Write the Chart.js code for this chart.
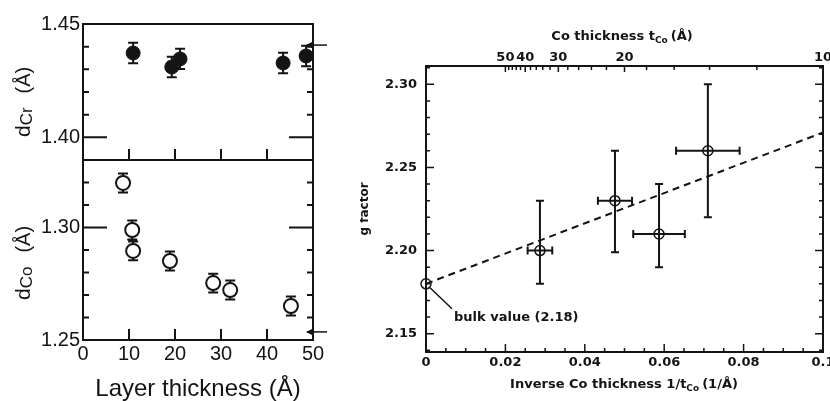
<!DOCTYPE html>
<html>
<head>
<meta charset="utf-8">
<script src="https://cdn.jsdelivr.net/npm/chart.js@4.4.1/dist/chart.umd.min.js"></script>
<style>
  html, body { margin: 0; padding: 0; background: #fff; }
  #wrap { position: relative; width: 830px; height: 401px; overflow: hidden; }
  .box { position: absolute; }
</style>
</head>
<body>
<div id="wrap">
  <div class="box" style="left:0;top:0;width:330px;height:161px"><canvas id="crTop"></canvas></div>
  <div class="box" style="left:0;top:159px;width:330px;height:242px"><canvas id="coBottom"></canvas></div>
  <div class="box" style="left:360px;top:0;width:470px;height:401px"><canvas id="gFactor"></canvas></div>
</div>
<script>
// ---- left figure: layer spacing vs layer thickness ----
const crThickness = [10.9, 19.3, 21.1, 43.5, 48.5];
const crSpacing = [1.4372, 1.4310, 1.4346, 1.4328, 1.4359];
const crError = [0.0045, 0.0045, 0.0045, 0.0045, 0.0045];
const coThickness = [8.7, 10.7, 10.9, 18.9, 28.3, 32.0, 45.2];
const coSpacing = [1.3198, 1.2989, 1.2896, 1.2851, 1.2753, 1.2722, 1.2651];
const coError = [0.0042, 0.0042, 0.0042, 0.0042, 0.0042, 0.0042, 0.0042];
const crBulkSpacing = 1.4407;
const coBulkSpacing = 1.2536;
const layerTicks = [0, 10, 20, 30, 40, 50];
const crTickLabels = [1.40, 1.45];
const coTickLabels = [1.25, 1.30];

// ---- right figure: g factor vs inverse Co thickness ----
const invThickness = [0.0287, 0.0476, 0.0587, 0.0710];
const invThicknessErr = [0.0031, 0.0043, 0.0065, 0.0080];
const gFactor = [2.200, 2.230, 2.210, 2.260];
const gErrUp = [0.030, 0.030, 0.030, 0.040];
const gErrDown = [0.020, 0.031, 0.020, 0.040];
const bulkInv = [0];
const bulkG = [2.18];
const fitInv = [0, 0.1];
const fitG = [2.18, 2.271];
const invTicks = [0, 0.02, 0.04, 0.06, 0.08, 0.1];
const gTicks = [2.15, 2.20, 2.25, 2.30];
const coTopLabels = [50, 40, 30, 20, 10];
const coTopMinor = [12, 14, 16, 18, 22, 24, 26, 28, 32, 34, 36, 38, 42, 44, 46, 48];

const INK = "#141414";
const LEFT_FONT = "Liberation Sans";
const RIGHT_FONT = "DejaVu Sans";

Chart.defaults.animation = false;
Chart.defaults.events = [];
Chart.defaults.color = INK;
Chart.defaults.plugins.legend.display = false;
Chart.defaults.plugins.tooltip.enabled = false;

function fixedAxis(size, horizontal) {
  return (s) => {
    if (horizontal) s.height = size; else s.width = size;
    s.paddingLeft = s.paddingRight = s.paddingTop = s.paddingBottom = 0;
  };
}
function setTicks(values) {
  return (s) => { s.ticks = values.map((v) => ({ value: v })); };
}
const noGrid = { display: false, drawTicks: false };

// text pieces drawn one after another (for subscripts)
function runWidth(ctx, parts) {
  let w = 0;
  parts.forEach((p) => { ctx.font = p.font; w += ctx.measureText(p.text).width + (p.gap || 0); });
  return w;
}
function drawRun(ctx, parts, x, y) {
  let cx = x;
  parts.forEach((p) => {
    ctx.font = p.font;
    ctx.fillText(p.text, cx, y + (p.dy || 0));
    cx += ctx.measureText(p.text).width + (p.gap || 0);
  });
}

function line(ctx, x1, y1, x2, y2) {
  ctx.moveTo(x1, y1); ctx.lineTo(x2, y2);
}

function leftPanel(cfg) {
  return {
    id: "leftPanel",
    beforeDatasetsDraw(chart) {
      const { ctx, scales: { x, y } } = chart;
      ctx.save();
      ctx.strokeStyle = INK;
      ctx.lineWidth = 2;
      ctx.beginPath();
      cfg.xs.forEach((xv, i) => {
        const px = x.getPixelForValue(xv);
        const lo = y.getPixelForValue(cfg.ys[i] - cfg.err[i]);
        const hi = y.getPixelForValue(cfg.ys[i] + cfg.err[i]);
        line(ctx, px, lo, px, hi);
        line(ctx, px - 5, lo, px + 5, lo);
        line(ctx, px - 5, hi, px + 5, hi);
      });
      ctx.stroke();
      ctx.restore();
    },
    afterDraw(chart) {
      const { ctx, chartArea: a, scales: { x, y } } = chart;
      ctx.save();
      ctx.strokeStyle = INK;
      ctx.fillStyle = INK;
      ctx.lineWidth = 2;
      ctx.beginPath();
      ctx.rect(a.left, a.top, a.right - a.left, a.bottom - a.top);
      // inward y ticks every 0.01, long ones at the labelled value
      for (let k = Math.round(y.min * 100) + 1; k < Math.round(y.max * 100); k++) {
        const py = y.getPixelForValue(k / 100);
        const len = k === cfg.longTick ? 24 : 6;
        line(ctx, a.left, py, a.left + len, py);
        line(ctx, a.right, py, a.right - len, py);
      }
      // x ticks pointing up from the bottom edge
      [10, 20, 30, 40].forEach((v) => {
        const px = x.getPixelForValue(v);
        line(ctx, px, a.bottom, px, a.bottom - 11);
      });
      ctx.stroke();

      // bulk reference arrow on the right edge
      const ay = y.getPixelForValue(cfg.arrow);
      ctx.lineWidth = 1.5;
      ctx.beginPath();
      line(ctx, a.right - 6, ay, a.right + 14, ay);
      ctx.stroke();
      ctx.beginPath();
      ctx.moveTo(a.right - 7, ay);
      ctx.lineTo(a.right, ay - 3.5);
      ctx.lineTo(a.right, ay + 3.5);
      ctx.closePath();
      ctx.fill();

      // rotated y title
      ctx.translate(30, cfg.titleStart);
      ctx.rotate(-Math.PI / 2);
      ctx.textBaseline = "alphabetic";
      drawRun(ctx, [
        { text: "d", font: `21px "${LEFT_FONT}"` },
        { text: cfg.sub, font: `17px "${LEFT_FONT}"`, dy: 2, gap: 14 },
        { text: "(Å)", font: `20px "${LEFT_FONT}"` },
      ], 0, 0);
      ctx.restore();

      if (cfg.xTitle) {
        ctx.save();
        ctx.fillStyle = INK;
        ctx.font = `24px "${LEFT_FONT}"`;
        ctx.textAlign = "center";
        ctx.textBaseline = "alphabetic";
        ctx.fillText(cfg.xTitle, 198, chart.height - 5);
        ctx.restore();
      }
    },
  };
}

function leftY(min, max, labels) {
  return {
    min, max,
    afterBuildTicks: setTicks(labels),
    afterFit: fixedAxis(83),
    grid: noGrid,
    border: { display: false },
    ticks: { padding: 3, font: { family: LEFT_FONT, size: 20 }, callback: (v) => Number(v).toFixed(2) },
  };
}

new Chart(document.getElementById("crTop"), {
  type: "scatter",
  data: {
    datasets: [{
      data: crThickness.map((t, i) => ({ x: t, y: crSpacing[i] })),
      pointRadius: 7,
      pointBackgroundColor: INK,
      pointBorderColor: INK,
      pointBorderWidth: 1,
    }],
  },
  options: {
    responsive: true,
    maintainAspectRatio: false,
    layout: { autoPadding: false, padding: { top: 24, right: 17, bottom: 1, left: 0 } },
    scales: {
      x: { display: false, min: 0, max: 50 },
      y: leftY(1.39, 1.45, crTickLabels),
    },
  },
  plugins: [leftPanel({ xs: crThickness, ys: crSpacing, err: crError, longTick: 140, arrow: crBulkSpacing, sub: "Cr", titleStart: 137 })],
});

new Chart(document.getElementById("coBottom"), {
  type: "scatter",
  data: {
    datasets: [{
      data: coThickness.map((t, i) => ({ x: t, y: coSpacing[i] })),
      pointRadius: 7,
      pointBackgroundColor: "#fff",
      pointBorderColor: INK,
      pointBorderWidth: 2,
    }],
  },
  options: {
    responsive: true,
    maintainAspectRatio: false,
    layout: { autoPadding: false, padding: { top: 1, right: 17, bottom: 0, left: 0 } },
    scales: {
      x: {
        min: 0, max: 50,
        afterBuildTicks: setTicks(layerTicks),
        afterFit: fixedAxis(61, true),
        grid: noGrid,
        border: { display: false },
        ticks: { padding: 2, font: { family: LEFT_FONT, size: 20 }, maxRotation: 0, autoSkip: false },
      },
      y: leftY(1.25, 1.33, coTickLabels),
    },
  },
  plugins: [leftPanel({ xs: coThickness, ys: coSpacing, err: coError, longTick: 130, arrow: coBulkSpacing, sub: "Co", titleStart: 141, xTitle: "Layer thickness (Å)" })],
});

// ---- right figure ----
const gPanel = {
  id: "gPanel",
  beforeDatasetsDraw(chart) {
    const { ctx, scales: { x, y } } = chart;
    ctx.save();
    ctx.strokeStyle = INK;
    ctx.lineWidth = 2;
    ctx.beginPath();
    invThickness.forEach((xv, i) => {
      const px = x.getPixelForValue(xv);
      const py = y.getPixelForValue(gFactor[i]);
      const top = y.getPixelForValue(gFactor[i] + gErrUp[i]);
      const bot = y.getPixelForValue(gFactor[i] - gErrDown[i]);
      const l = x.getPixelForValue(xv - invThicknessErr[i]);
      const r = x.getPixelForValue(xv + invThicknessErr[i]);
      line(ctx, px, top, px, bot);
      line(ctx, px - 4, top, px + 4, top);
      line(ctx, px - 4, bot, px + 4, bot);
      line(ctx, l, py, r, py);
      line(ctx, l, py - 4, l, py + 4);
      line(ctx, r, py - 4, r, py + 4);
    });
    ctx.stroke();
    ctx.restore();
  },
  afterDraw(chart) {
    const { ctx, chartArea: a, scales: { x, y } } = chart;
    ctx.save();
    ctx.strokeStyle = INK;
    ctx.fillStyle = INK;
    ctx.lineWidth = 2;
    ctx.beginPath();
    ctx.rect(a.left, a.top, a.right - a.left, a.bottom - a.top);
    ctx.stroke();

    ctx.lineWidth = 1.5;
    ctx.beginPath();
    // left / right ticks, every 0.01, long every 0.05
    for (let k = 214; k <= 231; k++) {
      const py = y.getPixelForValue(k / 100);
      const len = k % 5 === 0 ? 8 : 4;
      line(ctx, a.left, py, a.left + len, py);
      line(ctx, a.right, py, a.right - len, py);
    }
    // bottom ticks, every 0.005, long every 0.02
    for (let k = 1; k < 20; k++) {
      const px = x.getPixelForValue(k * 0.005);
      const len = k % 4 === 0 ? 8 : 4;
      line(ctx, px, a.bottom, px, a.bottom - len);
    }
    // top ticks at Co thickness values
    coTopLabels.forEach((t) => {
      const px = x.getPixelForValue(1 / t);
      line(ctx, px, a.top, px, a.top + 6);
    });
    coTopMinor.forEach((t) => {
      const px = x.getPixelForValue(1 / t);
      line(ctx, px, a.top, px, a.top + 4);
    });
    ctx.stroke();

    // bulk value pointer
    const bx = x.getPixelForValue(bulkInv[0]);
    const by = y.getPixelForValue(bulkG[0]);
    ctx.lineWidth = 1.5;
    ctx.beginPath();
    line(ctx, bx + 4, by + 4, bx + 26, by + 25);
    ctx.stroke();
    ctx.font = `bold 13px "${RIGHT_FONT}"`;
    ctx.textBaseline = "middle";
    ctx.fillText("bulk value (2.18)", bx + 28, by + 34);

    // axis titles
    ctx.textBaseline = "alphabetic";
    const topTitle = [
      { text: "Co thickness t", font: `bold 13px "${RIGHT_FONT}"` },
      { text: "Co", font: `bold 9px "${RIGHT_FONT}"`, dy: 3, gap: 3 },
      { text: "(Å)", font: `bold 13px "${RIGHT_FONT}"` },
    ];
    drawRun(ctx, topTitle, 262 - runWidth(ctx, topTitle) / 2, 40);
    const botTitle = [
      { text: "Inverse Co thickness 1/t", font: `bold 13px "${RIGHT_FONT}"` },
      { text: "Co", font: `bold 9px "${RIGHT_FONT}"`, dy: 3, gap: 3 },
      { text: "(1/Å)", font: `bold 13px "${RIGHT_FONT}"` },
    ];
    drawRun(ctx, botTitle, 264 - runWidth(ctx, botTitle) / 2, 388);

    ctx.translate(8, 209);
    ctx.rotate(-Math.PI / 2);
    ctx.font = `bold 12px "${RIGHT_FONT}"`;
    ctx.textAlign = "center";
    ctx.fillText("g factor", 0, 0);
    ctx.restore();
  },
};

const rightTickFont = { family: RIGHT_FONT, size: 13, weight: "bold" };

new Chart(document.getElementById("gFactor"), {
  type: "scatter",
  data: {
    datasets: [
      {
        data: fitInv.map((v, i) => ({ x: v, y: fitG[i] })),
        showLine: true,
        borderColor: INK,
        borderWidth: 2,
        borderDash: [7, 5],
        pointRadius: 0,
      },
      {
        data: invThickness.map((v, i) => ({ x: v, y: gFactor[i] })),
        pointRadius: 5,
        pointBorderWidth: 1.5,
        pointBorderColor: INK,
        pointBackgroundColor: "rgba(0,0,0,0)",
      },
      {
        data: bulkInv.map((v, i) => ({ x: v, y: bulkG[i] })),
        pointRadius: 5,
        pointBorderWidth: 1.5,
        pointBorderColor: INK,
        pointBackgroundColor: "rgba(0,0,0,0)",
        clip: 8,
      },
    ],
  },
  options: {
    responsive: true,
    maintainAspectRatio: false,
    layout: { autoPadding: false, padding: { top: 0, right: 7, bottom: 0, left: 0 } },
    scales: {
      x: {
        min: 0, max: 0.1,
        afterBuildTicks: setTicks(invTicks),
        afterFit: fixedAxis(49, true),
        grid: noGrid,
        border: { display: false },
        ticks: { padding: 3, font: rightTickFont, maxRotation: 0, autoSkip: false, callback: (v) => String(Number(v.toFixed(3))) },
      },
      x2: {
        type: "linear",
        position: "top",
        min: 0, max: 0.1,
        afterBuildTicks: setTicks(coTopLabels.map((t) => 1 / t)),
        afterFit: fixedAxis(66, true),
        grid: noGrid,
        border: { display: false },
        ticks: { padding: 1, font: rightTickFont, maxRotation: 0, autoSkip: false, callback: (v) => String(Math.round(1 / v)) },
      },
      y: {
        min: 2.139, max: 2.311,
        afterBuildTicks: setTicks(gTicks),
        afterFit: fixedAxis(66),
        grid: noGrid,
        border: { display: false },
        ticks: { padding: 9, font: rightTickFont, callback: (v) => Number(v).toFixed(2) },
      },
    },
  },
  plugins: [gPanel],
});
</script>
</body>
</html>
